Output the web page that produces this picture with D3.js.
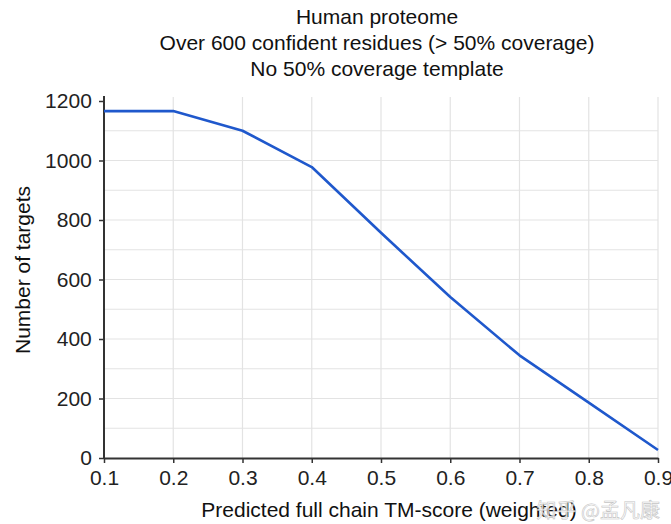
<!DOCTYPE html>
<html><head><meta charset="utf-8">
<script src="https://cdn.jsdelivr.net/npm/d3@7"></script>
<style>body{margin:0;background:#fff;} svg{display:block;font-family:"Liberation Sans",Arial,Helvetica,sans-serif;}</style>
</head><body>
<svg id="c" width="671" height="524"></svg>
<script>
const xValues = [0.1,0.2,0.3,0.4,0.5,0.6,0.7,0.8,0.9];
const targets = [1166,1166,1100,978,757,541,345,186,27];
const xTicks = [0.1,0.2,0.3,0.4,0.5,0.6,0.7,0.8,0.9];
const yTicks = [0,200,400,600,800,1000,1200];
const yGrid = [100,200,300,400,500,600,700,800,900,1000,1100];
const titleLines = ["Human proteome","Over 600 confident residues (> 50% coverage)","No 50% coverage template"];

const svg = d3.select("#c");
const L=104,R=658,T=101,B=458;
const FS=21;
const x = d3.scaleLinear().domain([0.1,0.9]).range([L,R]);
const y = d3.scaleLinear().domain([0,1200]).range([B,T]);

const g = svg.append("g");
g.selectAll(".hg").data(yGrid).join("line")
 .attr("x1",L).attr("x2",R).attr("y1",d=>y(d)).attr("y2",d=>y(d))
 .attr("stroke","#e3e3e3").attr("stroke-width",1.2);
g.selectAll(".vg").data(xTicks.slice(1)).join("line")
 .attr("x1",d=>x(d)).attr("x2",d=>x(d)).attr("y1",T-4).attr("y2",B)
 .attr("stroke","#e3e3e3").attr("stroke-width",1.2);

const xa = svg.append("g").attr("transform",`translate(0,${B})`)
 .call(d3.axisBottom(x).tickValues(xTicks).tickFormat(d3.format(".1f")).tickSize(5).tickSizeOuter(0));
const ya = svg.append("g").attr("transform",`translate(${L},0)`)
 .call(d3.axisLeft(y).tickValues(yTicks).tickFormat(d3.format("d")).tickSize(5).tickSizeOuter(0));
[xa,ya].forEach(a=>{
 a.select(".domain").attr("stroke","#333").attr("stroke-width",2);
 a.selectAll(".tick line").attr("stroke","#333").attr("stroke-width",1.5);
 a.selectAll(".tick text").attr("font-size",FS).attr("fill","#222").attr("font-family","inherit");
});
ya.select(".domain").attr("d",`M0,${T-5}V${B}`);
xa.selectAll(".tick text").attr("dy","0.9em");
ya.selectAll(".tick text").attr("dx","-0.2em");

const line = d3.line().x((d,i)=>x(xValues[i])).y(d=>y(d));
svg.append("path").datum(targets).attr("d",line)
 .attr("fill","none").attr("stroke","#1f58cc").attr("stroke-width",2.6).attr("stroke-linejoin","round");

svg.selectAll(".tt").data(titleLines).join("text")
 .attr("x",(L+R)/2-4).attr("y",(d,i)=>24+i*26).attr("text-anchor","middle")
 .attr("font-size",FS).attr("fill","#111").text(d=>d);

svg.append("text").attr("transform",`translate(30,${270}) rotate(-90)`)
 .attr("text-anchor","middle").attr("font-size",FS).attr("fill","#111").text("Number of targets");
svg.append("text").attr("x",389).attr("y",517).attr("text-anchor","middle")
 .attr("font-size",FS).attr("fill","#111").text("Predicted full chain TM-score (weighted)");

svg.append("text").attr("x",660).attr("y",518).attr("text-anchor","end")
 .attr("font-family","'Noto Sans CJK SC'").attr("font-size",20).attr("fill","#fff")
 .attr("stroke","#bbb").attr("stroke-width",0.6).attr("opacity",0.85).text("知乎 @孟凡康");
</script>
</body></html>
